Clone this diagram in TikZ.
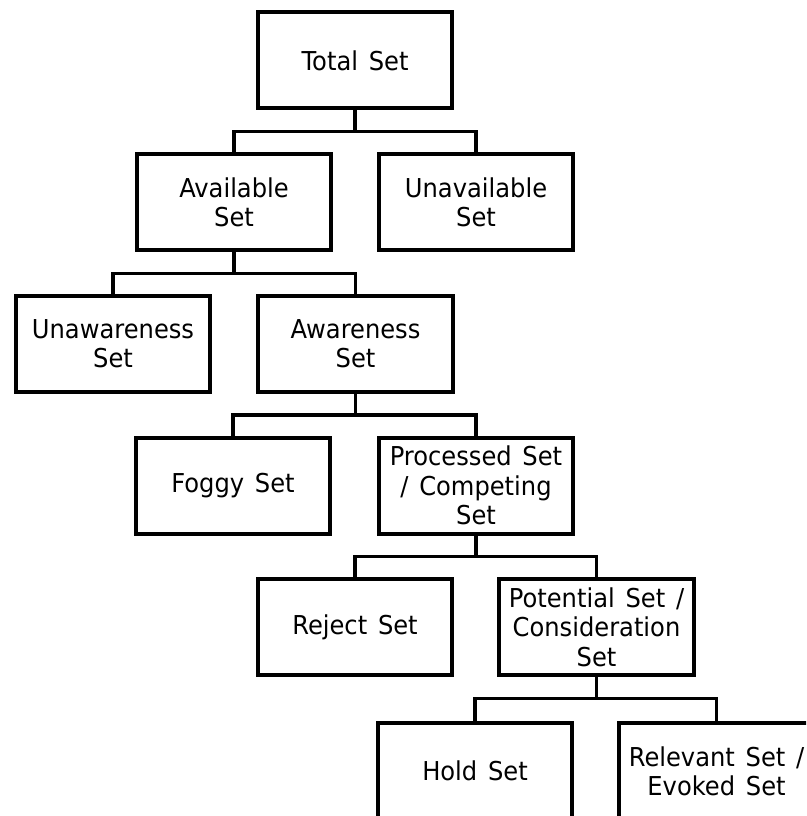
\documentclass[tikz,border=0pt]{standalone}
\usepackage{fontspec}
\setmainfont{DejaVu Sans}[FakeStretch=0.93, WordSpace=1.4]
\begin{document}
\begin{tikzpicture}[x=0.75pt,y=-0.75pt,
  setbox/.style={draw=black, line width=3pt, minimum width=146pt, minimum height=72pt,
    inner sep=0pt, align=center, font=\fontsize{19.5}{22}\selectfont},
  link/.style={draw=black, line width=2.4pt, line join=miter}]
\useasboundingbox (0,0) rectangle (806,816);
\clip (0,0) rectangle (806,816);

% level 0
\node[setbox] (total) at (355,60.5) {Total Set};
% level 1
\node[setbox] (avail)   at (234,202.2) {Available\\Set};
\node[setbox] (unavail) at (476,202.2) {Unavailable\\Set};
% level 2
\node[setbox] (unaware) at (113,343.9) {Unawareness\\Set};
\node[setbox] (aware)   at (355.5,343.9) {Awareness\\Set};
% level 3
\node[setbox] (foggy)   at (233,485.6) {Foggy Set};
\node[setbox] (proc)    at (476,485.6) {Processed Set\\/ Competing\\Set};
% level 4
\node[setbox] (reject)  at (355,627.3) {Reject Set};
\node[setbox] (pot)     at (596.5,627.3) {Potential Set /\\Consideration\\Set};
% level 5
\node[setbox] (hold)    at (475,771) {Hold Set};
\node[setbox] (relev)   at (716.5,771) {Relevant Set /\\Evoked Set};

% elbow connectors from each parent to its two children
\foreach \p/\a/\b in {total/avail/unavail, avail/unaware/aware, aware/foggy/proc,
                      proc/reject/pot, pot/hold/relev}{
  \draw[link] (\p.south) -- ++(0,21) -| (\a.north);
  \draw[link] (\p.south) -- ++(0,21) -| (\b.north);
}
\end{tikzpicture}
\end{document}
